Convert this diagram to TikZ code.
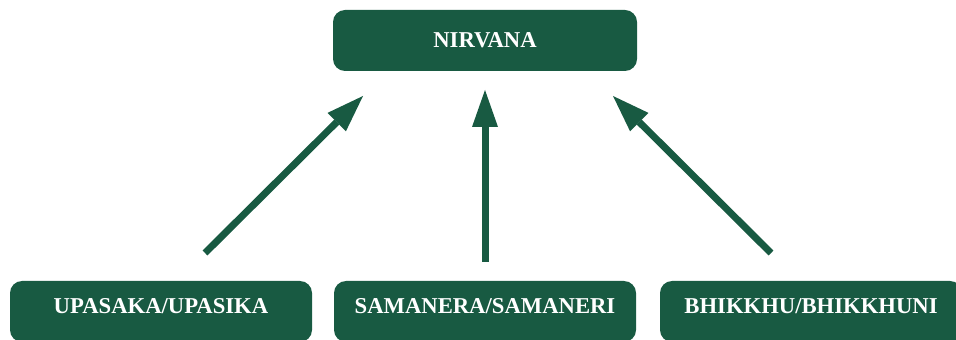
\documentclass[tikz,border=0pt]{standalone}
\usepackage{fontspec}
\setmainfont{Liberation Serif}
\usepackage{tikz}
\usetikzlibrary{positioning, arrows.meta}
\definecolor{sanghagreen}{RGB}{24,90,66}
\tikzset{
	line width = .75pt,
	font = \fontsize{17}{19}\selectfont\bfseries,
	stage/.style={
		fill=sanghagreen,
		text=white,
		rounded corners=9pt,
		minimum height=45.75pt,
		inner sep=0pt,
		outer sep=0pt
	},
	goal/.style={
		stage,
		minimum width=228pt
	},
	path box/.style={
		stage,
		minimum width=226.5pt,
		text height=11pt,
		text depth=7.3pt
	},
	rise/.style={
		draw=sanghagreen,
		line width=5.25pt,
		-{Triangle[length=27.75pt, width=19.5pt, line width=0pt]}
	}
}

\begin{document}
\begin{tikzpicture}[x=0.75pt, y=0.75pt]
\useasboundingbox (0,0) rectangle (956,339);

\node[goal] (nirvana) at (485,298.5) {NIRVANA};
\node[path box, below=157.5pt of nirvana] (samanera) {SAMANERA/SAMANERI};
\node[path box, left=16.5pt of samanera] (upasaka) {UPASAKA/UPASIKA};
\node[path box, right=18pt of samanera] (bhikkhu) {BHIKKHU/BHIKKHUNI};

\draw[rise] ([shift={(44,28)}]upasaka.north) -- ([shift={(-122,-25)}]nirvana.south);
\draw[rise] ([shift={(0,19)}]samanera.north) -- ([shift={(0,-19)}]nirvana.south);
\draw[rise] ([shift={(-40,28)}]bhikkhu.north) -- ([shift={(128,-25)}]nirvana.south);
\end{tikzpicture}
\end{document}
